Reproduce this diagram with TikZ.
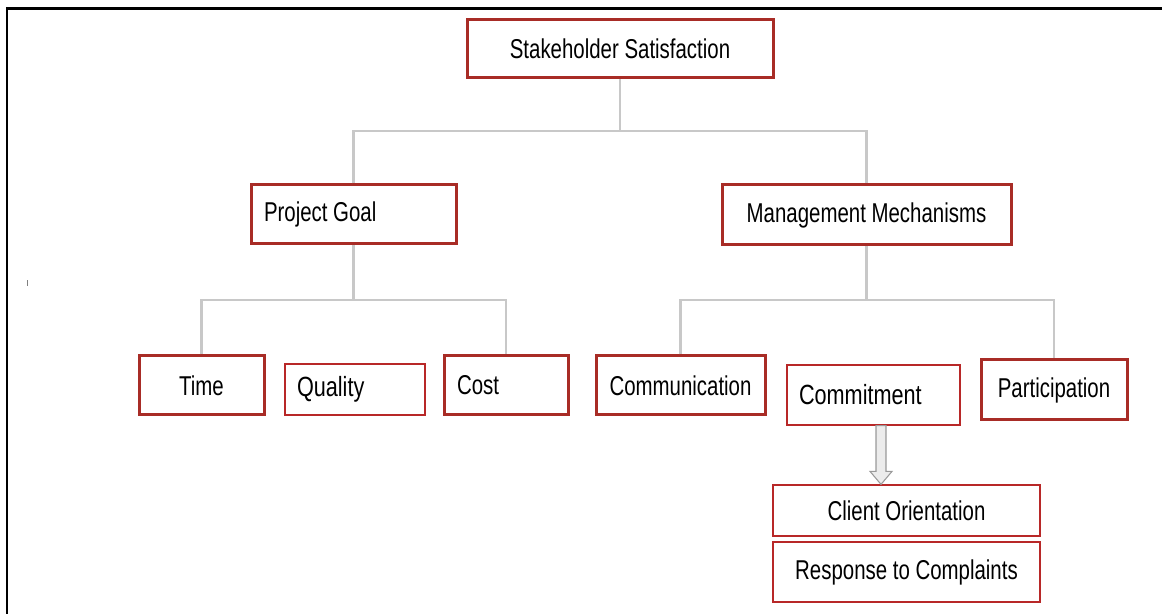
\documentclass[tikz,border=0pt]{standalone}
\usepackage{fontspec}
\usepackage{xcolor}
\setmainfont{Liberation Sans}[FakeStretch=0.75]
\newfontfamily\widerfont{Liberation Sans}[FakeStretch=0.78]
\definecolor{boxred}{RGB}{168,44,38}
\definecolor{thinred}{RGB}{184,40,40}
\definecolor{linkgray}{RGB}{200,200,200}

\begin{document}
\begin{tikzpicture}[
	txt/.style={font=\fontsize{15.5}{18}\selectfont},
	thickbox/.style={txt, draw=boxred, line width=0.06cm, fill=white, inner sep=0pt},
	thinbox/.style={txt, draw=thinred, line width=0.7pt, fill=white, inner sep=0pt},
	link/.style={draw=linkgray, line width=0.055cm}]
	\useasboundingbox (0,0) rectangle (23.24,12.28);
	\draw [line width=0.06cm] (23.24,12.10) -- (0.14,12.10) -- (0.14,0);
	\draw [gray, line width=0.4pt] (0.54,6.56) -- (0.54,6.68);
	\node [thickbox, minimum width=6.12cm, minimum height=1.16cm] (top) at (12.40,11.30) {Stakeholder Satisfaction};
	\node [thickbox, minimum width=4.10cm, minimum height=1.18cm, text width=3.58cm, inner xsep=0.26cm, align=flush left] (goal) at (7.07,7.99) {Project Goal};
	\node [thickbox, minimum width=5.78cm, minimum height=1.20cm] (mech) at (17.33,7.98) {Management Mechanisms};
	\node [thickbox, minimum width=2.50cm, minimum height=1.18cm] (time) at (4.03,4.57) {Time};
	\node [thinbox, minimum width=2.80cm, minimum height=1.02cm, text width=2.32cm, inner xsep=0.24cm, align=flush left, font=\widerfont\fontsize{15.8}{18}\selectfont] (quality) at (7.10,4.49) {Quality};
	\node [thickbox, minimum width=2.48cm, minimum height=1.18cm, text width=1.96cm, inner xsep=0.26cm, align=flush left] (cost) at (10.12,4.57) {Cost};
	\node [thickbox, minimum width=3.38cm, minimum height=1.18cm] (comm) at (13.61,4.57) {Communication};
	\node [thinbox, minimum width=3.46cm, minimum height=1.20cm, text width=2.98cm, inner xsep=0.24cm, align=flush left, font=\widerfont\fontsize{15.8}{18}\selectfont] (commit) at (17.47,4.38) {Commitment};
	\node [thickbox, minimum width=2.92cm, minimum height=1.20cm] (part) at (21.08,4.48) {Participation};
	\node [thinbox, minimum width=5.34cm, minimum height=1.02cm] (client) at (18.13,2.07) {Client Orientation};
	\node [thinbox, minimum width=5.34cm, minimum height=1.20cm] (resp) at (18.13,0.84) {Response to Complaints};
	\coordinate (j1) at (12.40,9.66);
	\coordinate (j2) at (7.07,6.28);
	\coordinate (j3) at (17.33,6.28);
	\draw [link] (top.south) -- (j1);
	\draw [link] (goal.north) |- (j1) -| (mech.north);
	\draw [link] (goal.south) -- (j2);
	\draw [link] (time.north) |- (j2) -| (cost.north);
	\draw [link] (mech.south) -- (j3);
	\draw [link] (comm.north) |- (j3) -| (part.north);
	\coordinate (tip) at ([xshift=-0.51cm]client.north);
	\draw [draw=gray!80, fill=gray!15, line width=0.6pt] ([xshift=-0.10cm]tip |- commit.south) -- ([xshift=-0.10cm, yshift=0.26cm]tip) -- ([xshift=-0.22cm, yshift=0.26cm]tip) -- (tip) -- ([xshift=0.22cm, yshift=0.26cm]tip) -- ([xshift=0.10cm, yshift=0.26cm]tip) -- ([xshift=0.10cm]tip |- commit.south) -- cycle;
\end{tikzpicture}
\end{document}
